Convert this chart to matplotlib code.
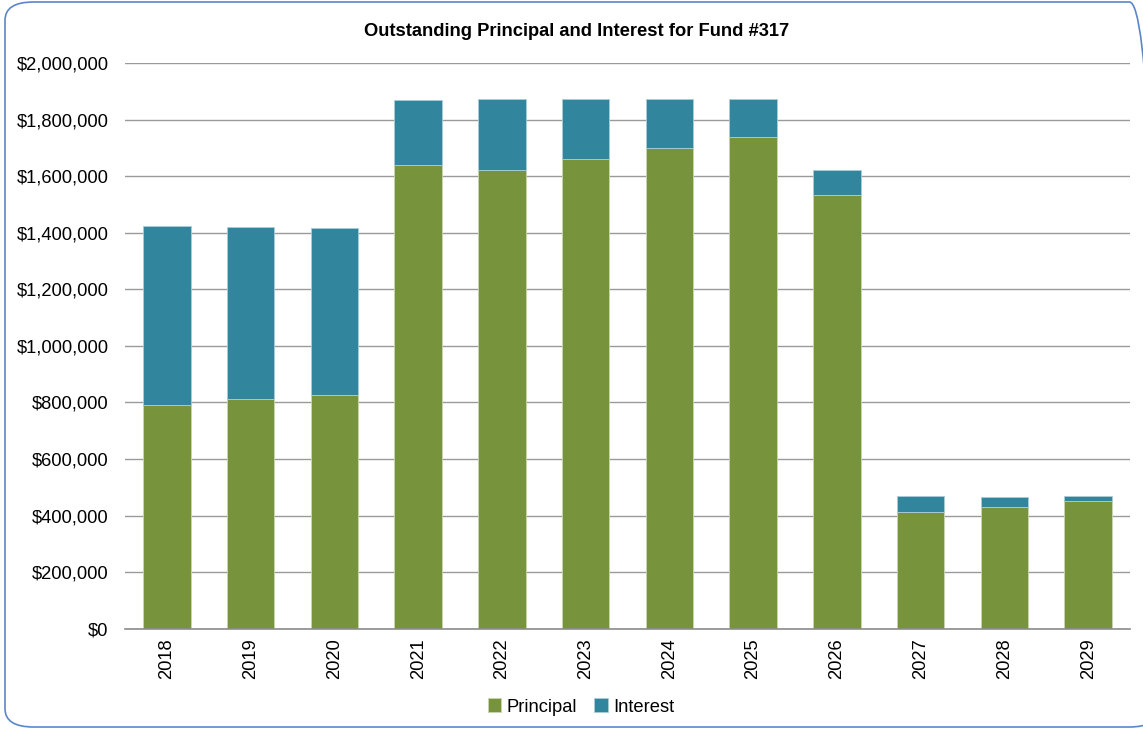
import matplotlib
matplotlib.use("Agg")
import matplotlib.pyplot as plt
from matplotlib.patches import FancyBboxPatch
from matplotlib.ticker import FuncFormatter
import numpy as np

plt.rcParams['font.family'] = ['Liberation Sans', 'DejaVu Sans']

years = ["2018", "2019", "2020", "2021", "2022", "2023",
         "2024", "2025", "2026", "2027", "2028", "2029"]
principal = [790000, 811000, 825000, 1641000, 1620000, 1659000,
             1698000, 1739000, 1534000, 414000, 431000, 451000]
total = [1424000, 1419000, 1415000, 1868000, 1873000, 1873000,
         1873000, 1871000, 1623000, 469000, 465000, 469000]
interest = [t - p for t, p in zip(total, principal)]

GREEN = "#77933C"
TEAL = "#31859C"

W, H = 1143, 730
fig = plt.figure(figsize=(W / 100, H / 100), dpi=100)

# rounded chart frame
frame = FancyBboxPatch((5 / W, 3 / H), (W + 10) / W, (H - 5) / H,
                       boxstyle="round,pad=0,rounding_size=0.025",
                       transform=fig.transFigure, fill=False,
                       edgecolor="#5B87C8", linewidth=1.2, clip_on=False)
fig.patches.append(frame)

left, right = 125 / W, 1130 / W
bottom, top = 1 - 628.7 / H, 1 - 63 / H
ax = fig.add_axes([left, bottom, right - left, top - bottom])

x = np.arange(len(years))
bw = 0.57
ax.bar(x, principal, bw, color=GREEN, edgecolor="#C9D6B0", linewidth=0.6,
       label="Principal", zorder=3)
ax.bar(x, interest, bw, bottom=principal, color=TEAL, edgecolor="#A9CDD8",
       linewidth=0.6, label="Interest", zorder=3)

ax.set_xlim(-0.5, len(years) - 0.5)
ax.set_ylim(0, 2000000)
ax.set_yticks(np.arange(0, 2000001, 200000))
ax.yaxis.set_major_formatter(FuncFormatter(lambda v, p: f"${v:,.0f}"))
ax.set_xticks(x)
ax.set_xticklabels(years, rotation=90)

ax.grid(axis="y", color="#9A9A9A", linewidth=1.0, zorder=0)
for s in ["top", "right", "left"]:
    ax.spines[s].set_visible(False)
ax.spines["bottom"].set_color("#8C8C8C")
ax.spines["bottom"].set_linewidth(1.2)
ax.spines["bottom"].set_zorder(4)
ax.tick_params(axis="both", length=0, labelsize=13.2, colors="black")
ax.tick_params(axis="y", pad=12)
ax.tick_params(axis="x", pad=7)

fig.text(577 / W, 1 - 31 / H, "Outstanding Principal and Interest for Fund #317",
         ha="center", va="center", fontsize=13.2, fontweight="bold")

fig.legend(loc="center", bbox_to_anchor=(581 / W, 1 - 707 / H), ncol=2,
           frameon=False, fontsize=13.2, handlelength=0.75, handleheight=0.75,
           handletextpad=0.3, columnspacing=0.9)

fig.savefig("out.png", dpi=100)
